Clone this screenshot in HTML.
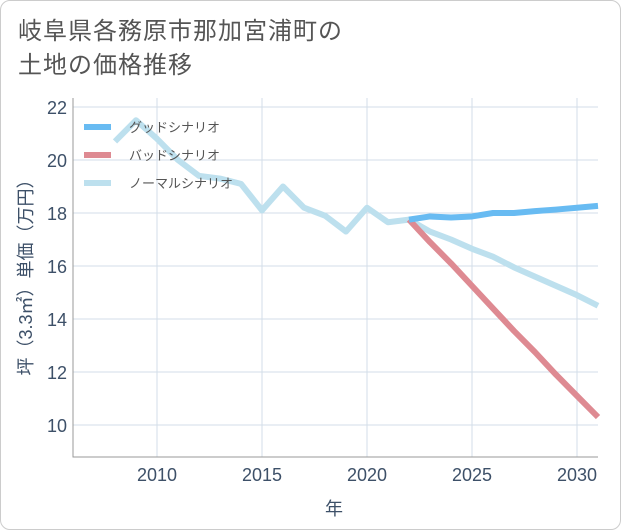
<!DOCTYPE html>
<html><head><meta charset="utf-8"><style>
body{margin:0;background:#fff;}
#card{position:absolute;left:0;top:0;width:619px;height:528px;border:1px solid #ccc;border-radius:10px;background:#fff;overflow:hidden;}
#title{position:absolute;left:17px;top:14px;font:24px "Liberation Sans","Noto Sans CJK JP",sans-serif;color:#555;line-height:34px;letter-spacing:1px;}
svg{position:absolute;left:0;top:0;}
text{font-family:"Liberation Sans","Noto Sans CJK JP",sans-serif;}
</style></head><body>
<div id="card">
<div id="title">岐阜県各務原市那加宮浦町の<br>土地の価格推移</div>
<svg id="chart" width="621" height="530"></svg>
</div>
<script>
const yearsNormal=[2008,2009,2010,2011,2012,2013,2014,2015,2016,2017,2018,2019,2020,2021,2022,2023,2024,2025,2026,2027,2028,2029,2030,2031];
const valuesNormal=[20.7,21.5,20.8,20.0,19.4,19.3,19.1,18.1,19.0,18.2,17.9,17.3,18.2,17.65,17.75,17.3,17.0,16.65,16.35,15.95,15.6,15.25,14.9,14.5];
const yearsFuture=[2022,2023,2024,2025,2026,2027,2028,2029,2030,2031];
const valuesGood=[17.75,17.87,17.83,17.87,18.0,18.0,18.07,18.13,18.2,18.27];
const valuesBad=[17.75,16.9,16.1,15.25,14.4,13.55,12.75,11.9,11.1,10.3];
const xTicks=[2010,2015,2020,2025,2030];
const yTicks=[10,12,14,16,18,20,22];
const L=72,R=597,T=97,B=456;
const x=v=>156+(v-2010)*21;
const y=v=>424-(v-10)*26.5;
const svg=document.getElementById('chart');
const NS='http://www.w3.org/2000/svg';
function mk(t,a){const e=document.createElementNS(NS,t);for(const k in a)e.setAttribute(k,a[k]);svg.appendChild(e);return e;}
yTicks.forEach(v=>{
 const l=mk('line',{x1:L,x2:R,y1:y(v),y2:y(v),stroke:'#d3dde8','stroke-width':1});
 
 
 const t=mk('text',{x:L-6,y:y(v)+7,'text-anchor':'end','font-size':18,fill:'#3d5068'});t.textContent=v;
 
 
});
xTicks.forEach(v=>{
 const l=mk('line',{x1:x(v),x2:x(v),y1:T,y2:B,stroke:'#d3dde8','stroke-width':1});
 
 
 const t=mk('text',{x:x(v),y:B+24,'text-anchor':'middle','font-size':18,fill:'#3d5068'});t.textContent=v;
 
 
});
const ax=mk('path',{d:`M${L} ${T}V${B}H${R}`,fill:'none',stroke:'#999','stroke-width':1});


function line(xs,vs,c,name){
 const p=mk('polyline',{points:xs.map((a,i)=>x(a)+','+y(vs[i])).join(' '),fill:'none',stroke:c,'stroke-width':6,'stroke-linejoin':'round'});
 
 
}
line(yearsNormal,valuesNormal,'#bde0ee','normal-scenario-line');
line(yearsFuture,valuesBad,'#de8a92','bad-scenario-line');
line(yearsFuture,valuesGood,'#68bbf2','good-scenario-line');
const leg=[['グッドシナリオ','#68bbf2'],['バッドシナリオ','#de8a92'],['ノーマルシナリオ','#bde0ee']];
leg.forEach((d,i)=>{
 const yy=126+i*28;
 const l=mk('line',{x1:83,x2:110,y1:yy,y2:yy,stroke:d[1],'stroke-width':6});
 
 
 const t=mk('text',{x:128,y:yy+5,'font-size':13,fill:'#555'});t.textContent=d[0];
 
 
});
const xt=mk('text',{x:333,y:514,'text-anchor':'middle','font-size':18,fill:'#3d5068'});xt.textContent='年';


const yt=mk('text',{x:0,y:0,'text-anchor':'middle','font-size':18,fill:'#3d5068',transform:'translate(31,272) rotate(-90)'});yt.textContent='坪（3.3㎡）単価（万円）';


</script>
</body></html>
